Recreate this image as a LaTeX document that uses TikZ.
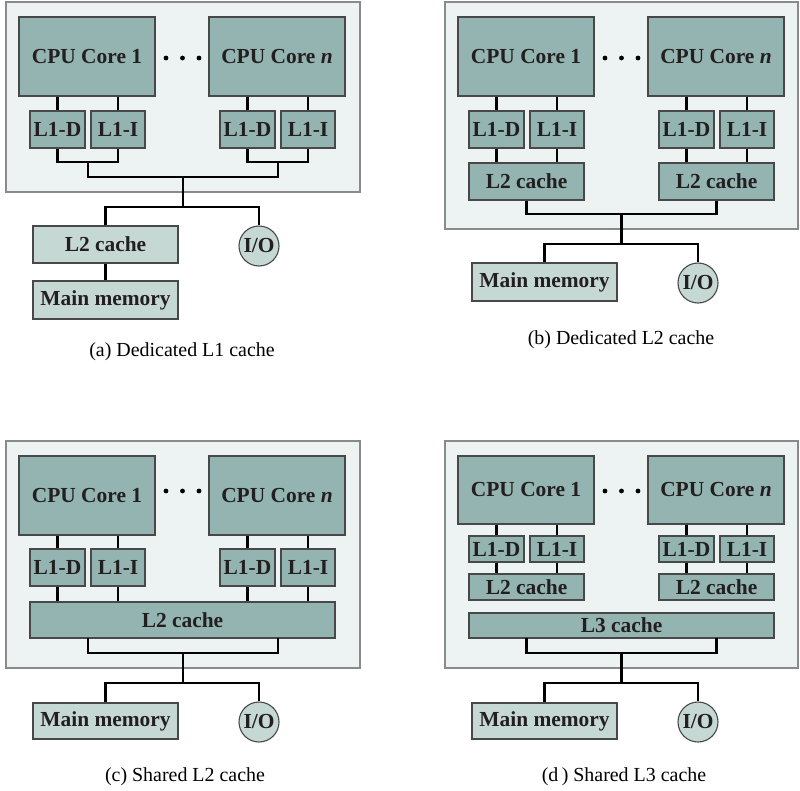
\documentclass[tikz,border=0pt]{standalone}
\usepackage{fontspec}
\setmainfont{Liberation Serif}
\usetikzlibrary{calc}
\definecolor{panelfill}{HTML}{EDF3F3}
\definecolor{panelline}{HTML}{8A8A8A}
\definecolor{darkbox}{HTML}{93B4B0}
\definecolor{lightbox}{HTML}{C6D8D4}
\definecolor{boxline}{HTML}{484848}
\definecolor{txt}{HTML}{231F20}
\newcommand\bx[7]{\node[#2, minimum width={(#5-#3)*1bp}, minimum height={(#6-#4)*1bp}] (#1) at ({(#3+#5)/2},{(#4+#6)/2}) {#7};}
\tikzset{
  lbl/.style={font=\bfseries\fontsize{21.5}{25}\selectfont, text=txt, inner sep=0pt},
  dbox/.style={lbl, draw=boxline, line width=1.1bp, fill=darkbox, rectangle},
  lbox/.style={lbl, draw=boxline, line width=1.1bp, fill=lightbox, rectangle},
  iobox/.style={lbl, draw=boxline, line width=1.1bp, fill=lightbox, circle, minimum size=40bp},
  panelbox/.style={draw=panelline, line width=1.3bp, fill=panelfill},
  bus/.style={line width=2.8bp, black},
  capt/.style={font=\fontsize{20}{24}\selectfont, inner sep=0pt},
  dotc/.style={fill=black, circle, inner sep=0pt, minimum size=4.8bp}
}
\begin{document}
\begin{tikzpicture}[x=1bp,y=-1bp]
\useasboundingbox[fill=white] (0,0) rectangle (800,791);
% ================= (a) =================
\begin{scope}
\filldraw[panelbox] (6,2) rectangle (360,192);
\bx{a-c1}{dbox}{19}{17}{155}{96}{CPU Core 1}
\bx{a-cn}{dbox}{209}{17}{345}{96}{CPU Core \textit{n}}
\node[dotc] (a-p1) at (166,58) {}; \node[dotc] (a-p2) at (182.5,58) {}; \node[dotc] (a-p3) at (199,58) {};
\bx{a-d1}{dbox}{30}{111}{85}{148}{L1-D}
\bx{a-i1}{dbox}{91}{111}{145}{148}{L1-I}
\bx{a-d2}{dbox}{220}{111}{275}{148}{L1-D}
\bx{a-i2}{dbox}{281}{111}{335}{148}{L1-I}
\bx{a-l2}{lbox}{33}{226}{178}{263}{L2 cache}
\bx{a-mm}{lbox}{33}{281}{178}{319}{Main memory}
\node[iobox] (a-io) at (259,246) {I/O};
\foreach \b/\c in {d1/c1,i1/c1,d2/cn,i2/cn}{\draw[bus] (a-\b.north |- a-\c.south) -- (a-\b.north);}
\coordinate (a-j1) at (88,162); \coordinate (a-j2) at (278,162);
\coordinate (a-k) at (183,177); \coordinate (a-m) at (183,207);
\draw[bus] (a-d1.south) |- (a-j1) -| (a-i1.south);
\draw[bus] (a-d2.south) |- (a-j2) -| (a-i2.south);
\draw[bus] (a-j1) |- (a-k) -| (a-j2);
\draw[bus] (a-k) -- (a-m);
\draw[bus] (a-l2.north) |- (a-m) -| (a-io.north);
\draw[bus] (a-l2.south) -- (a-mm.north);
\node[capt] (a-cap) at (182,352) {(a) Dedicated L1 cache};
\end{scope}
% ================= (b) =================
\begin{scope}[shift={(439,0)}]
\filldraw[panelbox] (6,2) rectangle (359,229);
\bx{b-c1}{dbox}{19}{17}{155}{96}{CPU Core 1}
\bx{b-cn}{dbox}{209}{17}{345}{96}{CPU Core \textit{n}}
\node[dotc] (b-p1) at (166,58) {}; \node[dotc] (b-p2) at (182.5,58) {}; \node[dotc] (b-p3) at (199,58) {};
\bx{b-d1}{dbox}{30}{111}{85}{148}{L1-D}
\bx{b-i1}{dbox}{91}{111}{145}{148}{L1-I}
\bx{b-d2}{dbox}{220}{111}{275}{148}{L1-D}
\bx{b-i2}{dbox}{281}{111}{335}{148}{L1-I}
\bx{b-l2a}{dbox}{30}{163}{145}{200}{L2 cache}
\bx{b-l2b}{dbox}{220}{163}{335}{200}{L2 cache}
\bx{b-mm}{lbox}{33}{263}{178}{301}{Main memory}
\node[iobox] (b-io) at (259,283) {I/O};
\foreach \b/\c in {d1/c1,i1/c1,d2/cn,i2/cn}{\draw[bus] (b-\b.north |- b-\c.south) -- (b-\b.north);}
\foreach \b/\c in {d1/l2a,i1/l2a,d2/l2b,i2/l2b}{\draw[bus] (b-\b.south) -- (b-\b.south |- b-\c.north);}
\coordinate (b-k) at (182.5,214); \coordinate (b-m) at (182.5,244);
\draw[bus] (b-l2a.south) |- (b-k) -| (b-l2b.south);
\draw[bus] (b-k) -- (b-m);
\draw[bus] (b-mm.north) |- (b-m) -| (b-io.north);
\node[capt] (b-cap) at (182,340) {(b) Dedicated L2 cache};
\end{scope}
% ================= (c) =================
\begin{scope}[shift={(0,439)}]
\filldraw[panelbox] (6,2) rectangle (360,229);
\bx{c-c1}{dbox}{19}{17}{155}{96}{CPU Core 1}
\bx{c-cn}{dbox}{209}{17}{345}{96}{CPU Core \textit{n}}
\node[dotc] (c-p1) at (166,52) {}; \node[dotc] (c-p2) at (182.5,52) {}; \node[dotc] (c-p3) at (199,52) {};
\bx{c-d1}{dbox}{30}{110}{85}{147}{L1-D}
\bx{c-i1}{dbox}{91}{110}{145}{147}{L1-I}
\bx{c-d2}{dbox}{220}{110}{275}{147}{L1-D}
\bx{c-i2}{dbox}{281}{110}{335}{147}{L1-I}
\bx{c-l2}{dbox}{30}{163}{335}{199}{L2 cache}
\bx{c-mm}{lbox}{33}{264}{178}{300}{Main memory}
\node[iobox] (c-io) at (259,283) {I/O};
\foreach \b/\c in {d1/c1,i1/c1,d2/cn,i2/cn}{\draw[bus] (c-\b.north |- c-\c.south) -- (c-\b.north);}
\foreach \b in {d1,i1,d2,i2}{\draw[bus] (c-\b.south) -- (c-\b.south |- c-l2.north);}
\coordinate (c-j1) at (88,199); \coordinate (c-j2) at (278,199);
\coordinate (c-k) at (183,214); \coordinate (c-m) at (183,244);
\draw[bus] (c-j1) |- (c-k) -| (c-j2);
\draw[bus] (c-k) -- (c-m);
\draw[bus] (c-mm.north) |- (c-m) -| (c-io.north);
\node[capt] (c-cap) at (185,338) {(c) Shared L2 cache};
\end{scope}
% ================= (d) =================
\begin{scope}[shift={(439,439)}]
\filldraw[panelbox] (6,2) rectangle (359,229);
\bx{d-c1}{dbox}{19}{17}{155}{85}{CPU Core 1}
\bx{d-cn}{dbox}{209}{17}{345}{85}{CPU Core \textit{n}}
\node[dotc] (d-p1) at (166,52) {}; \node[dotc] (d-p2) at (182.5,52) {}; \node[dotc] (d-p3) at (199,52) {};
\bx{d-d1}{dbox}{30}{97}{85}{123}{L1-D}
\bx{d-i1}{dbox}{91}{97}{145}{123}{L1-I}
\bx{d-d2}{dbox}{220}{97}{275}{123}{L1-D}
\bx{d-i2}{dbox}{281}{97}{335}{123}{L1-I}
\bx{d-l2a}{dbox}{30}{135}{145}{161}{L2 cache}
\bx{d-l2b}{dbox}{220}{135}{335}{161}{L2 cache}
\bx{d-l3}{dbox}{30}{174}{335}{199}{L3 cache}
\bx{d-mm}{lbox}{33}{264}{178}{300}{Main memory}
\node[iobox] (d-io) at (259,283) {I/O};
\foreach \b/\c in {d1/c1,i1/c1,d2/cn,i2/cn}{\draw[bus] (d-\b.north |- d-\c.south) -- (d-\b.north);}
\foreach \b/\c in {d1/l2a,i1/l2a,d2/l2b,i2/l2b}{\draw[bus] (d-\b.south) -- (d-\b.south |- d-\c.north);}
\coordinate (d-j1) at (87.5,199); \coordinate (d-j2) at (277.5,199);
\coordinate (d-k) at (182.5,214); \coordinate (d-m) at (182.5,244);
\draw[bus] (d-j1) |- (d-k) -| (d-j2);
\draw[bus] (d-k) -- (d-m);
\draw[bus] (d-mm.north) |- (d-m) -| (d-io.north);
\node[capt] (d-cap) at (185,338) {(d\,) Shared L3 cache};
\end{scope}
\end{tikzpicture}
\end{document}
